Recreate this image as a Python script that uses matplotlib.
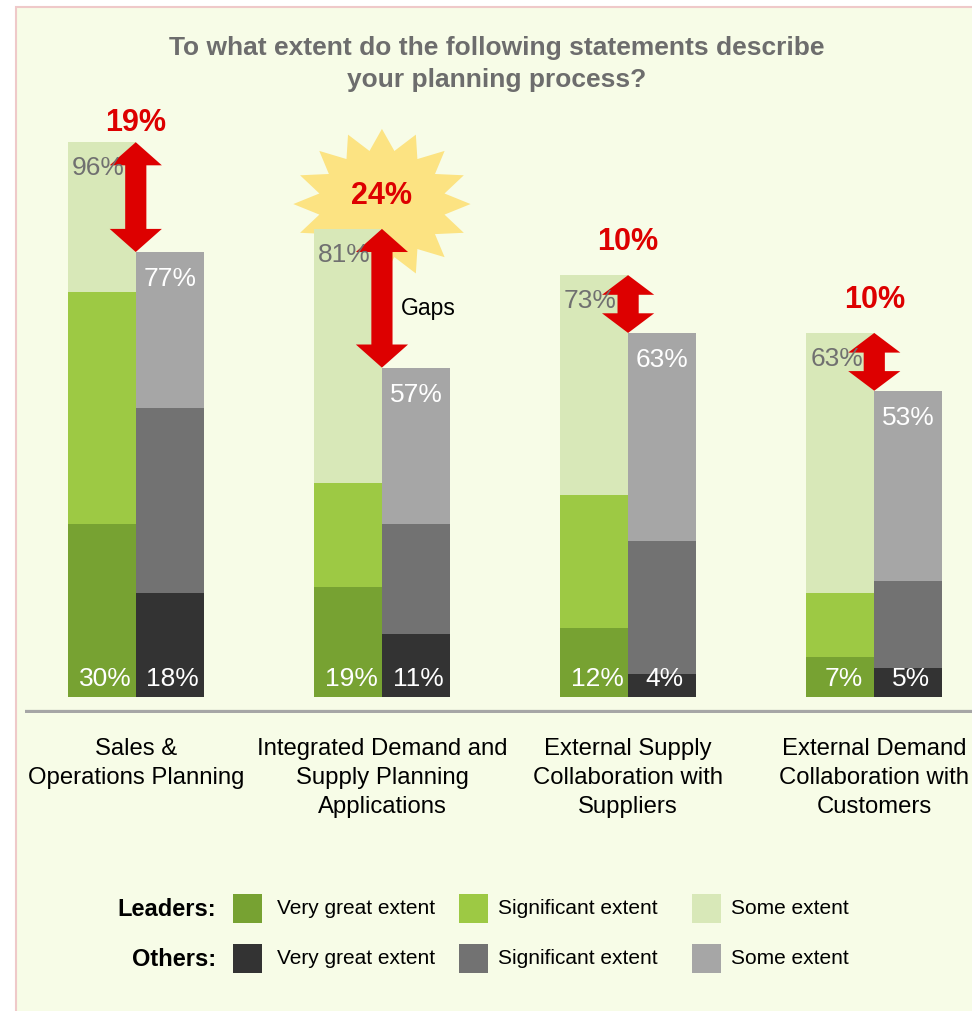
import numpy as np
import matplotlib
matplotlib.use("Agg")
import matplotlib.pyplot as plt
from matplotlib.patches import Polygon, Rectangle

plt.rcParams['font.family'] = ['Liberation Sans', 'DejaVu Sans']

categories = ["Sales &\nOperations Planning",
              "Integrated Demand and\nSupply Planning\nApplications",
              "External Supply\nCollaboration with\nSuppliers",
              "External Demand\nCollaboration with\nCustomers"]

# Leaders (green) stack, bottom to top
leaders_very_great = [30, 19, 12, 7]
leaders_significant = [40, 18, 23, 11]
leaders_some = [26, 44, 38, 45]

# Others (grey) stack, bottom to top
others_very_great = [18, 11, 4, 5]
others_significant = [32, 19, 23, 15]
others_some = [27, 27, 36, 33]

legend_labels = ["Very great extent", "Significant extent", "Some extent"]

green = ["#77A232", "#9DC944", "#D8E8B8"]
grey = ["#333333", "#727272", "#A6A6A6"]
bg = "#F7FCE7"
red = "#DD0000"

lead = np.array([leaders_very_great, leaders_significant, leaders_some])
oth = np.array([others_very_great, others_significant, others_some])
lead_tot = lead.sum(axis=0)
oth_tot = oth.sum(axis=0)
gaps = lead_tot - oth_tot

W, H = 972, 1011
fig = plt.figure(figsize=(W / 100, H / 100), dpi=100, facecolor="white")
# background panel with thin pink frame
fig.patches.append(Rectangle((16 / W, -0.01), 1.0, 1 - 7 / H + 0.01, transform=fig.transFigure,
                             facecolor=bg, edgecolor="#EFC9C9", linewidth=1.5, zorder=-5))

ax = fig.add_axes([25 / W, 1 - 713 / H, (W - 25) / W, (713 - 100) / H])
ax.set_facecolor("none")
ax.set_xlim(-0.45, 3.397)
ax.set_ylim(-2.75, 103.3)
ax.axis("off")

x = np.arange(len(categories))
w = 0.276

# starburst behind the biggest gap
g = int(np.argmax(gaps))
n = 16
ang = np.pi / 2 + np.arange(2 * n) * np.pi / n
rad = np.where(np.arange(2 * n) % 2 == 0, 1.0, 0.72)
sx = x[g] + 0.36 * rad * np.cos(ang)
sy = lead_tot[g] + 4.3 + 13.0 * rad * np.sin(ang)
ax.add_patch(Polygon(np.column_stack([sx, sy]), closed=True, facecolor="#FCE382",
                     edgecolor="none", zorder=1))

# stacked bars
bl = np.zeros(len(x))
bo = np.zeros(len(x))
for i in range(3):
    ax.bar(x - w / 2, lead[i], w, bottom=bl, color=green[i], zorder=2)
    ax.bar(x + w / 2, oth[i], w, bottom=bo, color=grey[i], zorder=2)
    bl += lead[i]
    bo += oth[i]

for j in range(len(x)):
    ax.text(x[j] - w / 2 - 0.015, lead_tot[j] - 4.5, f"{lead_tot[j]}%", ha="center", va="center",
            fontsize=19, color="#707070", zorder=4)
    ax.text(x[j] + w / 2, oth_tot[j] - 4.7, f"{oth_tot[j]}%", ha="center", va="center",
            fontsize=19, color="white", zorder=4)
    ax.text(x[j] - w / 2 + 0.015, 3.2, f"{lead[0][j]}%", ha="center", va="center",
            fontsize=19, color="white", zorder=4)
    ax.text(x[j] + w / 2 + 0.01, 3.2, f"{oth[0][j]}%", ha="center", va="center",
            fontsize=19, color="white", zorder=4)

    # double arrow showing the gap
    y1, y0 = lead_tot[j], oth_tot[j]
    hl = min(4.0, (y1 - y0) * 0.34)
    hw, sw = 0.106, 0.043
    xc = x[j]
    pts = [(xc, y1), (xc + hw, y1 - hl), (xc + sw, y1 - hl), (xc + sw, y0 + hl),
           (xc + hw, y0 + hl), (xc, y0), (xc - hw, y0 + hl), (xc - sw, y0 + hl),
           (xc - sw, y1 - hl), (xc - hw, y1 - hl)]
    ax.add_patch(Polygon(pts, closed=True, facecolor=red, edgecolor="none", zorder=3))
    ax.text(xc, min(y1 + 5.7, 99.4), f"{gaps[j]}%", ha="center", va="center", fontsize=22,
            fontweight="bold", color=red, zorder=4)

    ax.text(xc, -7.0, categories[j], ha="center", va="top", fontsize=17.2,
            linespacing=1.42, color="black")

ax.text(x[g] + 0.075, lead_tot[g] - 13.7, "Gaps", ha="left", va="center", fontsize=16.5)

ax.axhline(-2.75, color="#A6A6A6", linewidth=4.5, zorder=2)

fig.text(497 / W, 1 - 64 / H, "To what extent do the following statements describe\nyour planning process?",
         ha="center", va="center", fontsize=19, fontweight="bold", color="#6D6D6D", linespacing=1.38)

# legend
rows = [("Leaders:", green, 909), ("Others:", grey, 959)]
for title, cols, yc in rows:
    fig.text(216 / W, 1 - yc / H, title, ha="right", va="center", fontsize=17, fontweight="bold")
    for k, xs in enumerate([233, 459, 692]):
        fig.patches.append(Rectangle((xs / W, 1 - (yc + 14) / H), 29 / W, 29 / H,
                                     transform=fig.transFigure, facecolor=cols[k],
                                     edgecolor="none"))
        fig.text((xs + 44 - 5 * (k > 0)) / W, 1 - yc / H, legend_labels[k], ha="left",
                 va="center", fontsize=15)

fig.savefig("out.png", dpi=100, facecolor=fig.get_facecolor())
